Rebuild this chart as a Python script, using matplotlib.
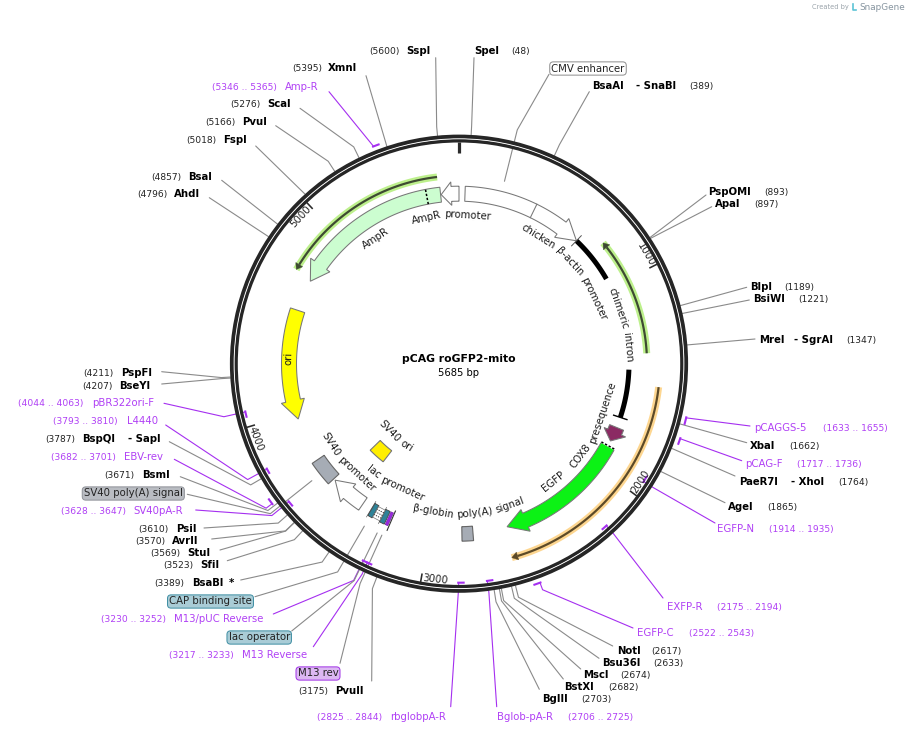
import numpy as np
import matplotlib
matplotlib.use("Agg")
import matplotlib.pyplot as plt
from matplotlib.patches import Polygon, Circle

TOTAL_BP = 5685
PLASMID = "pCAG roGFP2-mito"
LENGTH_LABEL = "5685 bp"
RULER_TICKS = [1000, 2000, 3000, 4000, 5000]

SITE_NAMES = ["SpeI", "BsaAI", "PspOMI", "ApaI", "BlpI", "BsiWI", "MreI", "XbaI", "PaeR7I", "AgeI",
              "NotI", "Bsu36I", "MscI", "BstXI", "BglII", "PvuII", "BsaBI", "SfiI", "StuI", "AvrII",
              "PsiI", "BsmI", "BspQI", "BseYI", "PspFI", "AhdI", "BsaI", "FspI", "PvuI", "ScaI", "XmnI", "SspI"]
SITE_BP = [48, 389, 893, 897, 1189, 1221, 1347, 1662, 1764, 1865,
           2617, 2633, 2674, 2682, 2703, 3175, 3389, 3523, 3569, 3570,
           3610, 3671, 3787, 4207, 4211, 4796, 4857, 5018, 5166, 5276, 5395, 5600]
SITE_PARTNER = {"BsaAI": "- SnaBI", "MreI": "- SgrAI", "PaeR7I": "- XhoI", "BspQI": "- SapI", "BsaBI": "*"}

PRIMER_NAMES = ["Amp-R", "pCAGGS-5", "pCAG-F", "EGFP-N", "EXFP-R", "EGFP-C", "Bglob-pA-R", "rbglobpA-R",
                "M13 Reverse", "M13/pUC Reverse", "SV40pA-R", "EBV-rev", "L4440", "pBR322ori-F"]
PRIMER_START = [5346, 1633, 1717, 1914, 2175, 2522, 2706, 2825, 3217, 3230, 3628, 3682, 3793, 4044]
PRIMER_END = [5365, 1655, 1736, 1935, 2194, 2543, 2725, 2844, 3233, 3252, 3647, 3701, 3810, 4063]

BOX_NAMES = ["CMV enhancer", "SV40 poly(A) signal", "CAP binding site", "lac operator", "M13 rev"]
BOX_BP = [221, 3656, 3320, 3250, 3225]

ARROW_NAMES = ["AmpR", "AmpR promoter", "chicken b-actin promoter", "ori", "EGFP", "COX8", "SV40 promoter"]
ARROW_START = [5587, 5685, 32, 4553, 1876, 1769, 3386]
ARROW_TIP = [4722, 5590, 690, 3964, 2583, 1848, 3581]
ARROW_HEAD = [4823, 5644, 586, 4065, 2479, 1796, 3484]

ORF_START = [1371, 5579, 1527]
ORF_TIP = [790, 4739, 2602]

EXON_START = [690, 1453]
EXON_END = [949, 1712]

GREY_FEATURE_START = [3591, 2768]
GREY_FEATURE_END = [3724, 2827]
SV40_ORI = (3438, 3565)
CAP_SITE = (3307, 3332)
LAC_OPERATOR = (3237, 3264)
LAC_PROMOTER = (3265, 3306)
M13_REV = (3217, 3232)
ACTIN_DIVIDER_BP = 411
AMPR_SIGNAL_BP = 5513
EGFP_LINK_BP = 1876

FEATURE_TEXTS = ["AmpR promoter", "AmpR", "chicken β-actin promoter", "chimeric intron", "ori",
                 "COX8 presequence", "EGFP", "β-globin poly(A) signal", "lac promoter", "SV40 promoter", "SV40 ori"]
FEATURE_TEXT_BP = [5639, 5153, 773, 1210, 4292, 1808, 2231, 2780, 3285, 3605, 3490]

# ---------- layout (pixels of the 909x734 canvas) ----------
CX, CY = 459.0, 363.7
SITE_X = [474, 591.7, 708, 715, 750, 753, 759, 750, 739, 728, 616.7, 601.7, 583.3, 564.3, 541.7, 335, 191.7,
          200, 187.3, 172.3, 175.7, 141.7, 82.3, 119.3, 120.7, 174, 188, 223, 242, 267, 328, 406]
SITE_Y = [51, 86, 192, 204, 287, 299, 340, 446, 482, 507, 651, 663, 675, 687, 699, 691, 583,
          565, 553, 541, 529, 475, 439, 385.7, 373.3, 194, 177, 140, 122, 104, 68, 51]
SITE_POS_X = [511.7, 689.3, 764, 754, 784, 798, 846, 789, 838, 767, 651.7, 653.3, 620, 608.3, 581.7, 298, 154,
              163.3, 150, 135, 138.3, 104.3, 45.7, 82.3, 83.3, 137, 151, 186, 205, 230, 292, 369]
SITE_END = [(474, 57.7), (589.3, 91.7), (706, 195), (711.7, 206.7), (746.7, 287.3), (749.3, 300), (755, 339),
            (746.7, 442.7), (735, 476), (725, 502.7), (612.7, 646), (599, 658.3), (580.7, 669), (563.3, 679),
            (539.3, 689.3), (371.7, 681), (240.7, 580), (227.3, 560.7), (220, 550), (211.7, 539), (204, 528),
            (180.3, 476.7), (169.3, 441.7), (161.7, 384), (161.7, 371.7), (209.3, 197.7), (221.7, 180.3),
            (255.7, 146), (275.7, 125.7), (300, 108.3), (366, 75.7), (435.7, 57.7)]
SITE_KNEE = [238, 241, None, None, None, None, None, None, None, None, 241, 241, 241, 241, 241, 241, 241,
             241, 241, 241, 241, 241, 241, 238, 238, None, None, None, 241, 241, None, 238]
PARTNER_X = {"BsaAI": 636, "MreI": 794, "PaeR7I": 791, "BspQI": 127.7, "BsaBI": 229}

PRIMER_X = [285, 754, 745, 717, 666.7, 637.3, 497.3, 390, 242, 174.3, 133.3, 124.3, 126.7, 91.7]
PRIMER_Y = [87, 428, 464, 529, 606.7, 633, 717, 717, 655, 619, 511, 457, 421, 403.3]
PRIMER_POS_X = [212, 823, 797, 769, 717.3, 689.3, 567.7, 317, 169.3, 101, 60.7, 51, 53.3, 18.3]
PRIMER_BAR_R = [233.5, 233.5, 233.5, 219, 219, 233.5, 219, 219, 219, 219, 219, 233.5, 219, 219]
PRIMER_ATTACH = [5346, 1633, 1717, 1935, 2175, 2522, 2725, 2844, 3233, 3252, 3647, 3682, 3810, 4063]
PRIMER_KNEE = [None, None, None, 230, 229, 241, 231, 224, 232, 241, 241, 241, 241, 241]
PRIMER_END_XY = [(329, 91.7), (750, 426), (741.7, 460.7), (715, 523), (663, 598), (633, 628), (496.7, 706.7),
                 (450.7, 706.7), (313.3, 646.7), (273.3, 614), (195.7, 510), (174.3, 459.3), (165.7, 425), (164, 403.3)]

BOX_CENTER = [(588, 68.5), (133.3, 493.5), (210.5, 601.5), (259.2, 637.5), (318, 673.5)]
BOX_FACE = ["white", "#b9bcc2", "#a9ccd6", "#a9ccd6", "#dcb8f2"]
BOX_EDGE = ["#8c8c8c", "#8f9298", "#3e8ea3", "#3e8ea3", "#a032e6"]
BOX_END = [(549, 74.3), (187.3, 494.3), (255, 596.7), (291.7, 631), (340, 663.3)]

ARROW_FACE = ["#ccfdd0", "white", "white", "#ffff00", "#0cf215", "#8b2a63", "white"]
FEATURE_TEXT_R = [149, 150, 150, 169, 170, 152, 150.5, 150, 138, 151, 97]

ORF_R = [188, 188, 201]
ORF_HALO = ["#bdf08c", "#bdf08c", "#fdd690"]
ORF_LINE = ["#3e4a32", "#3e4a32", "#5c4a28"]

PURPLE = "#a52ff0"
PURPLE_TXT = "#b040f5"
GREY = "#8a8a8a"
FS = 7.3
PX = 0.72

plt.rcParams["font.family"] = ["DejaVu Sans"]
fig = plt.figure(figsize=(9.09, 7.34), dpi=100)
ax = fig.add_axes([0, 0, 1, 1])
ax.set_xlim(0, 909)
ax.set_ylim(734, 0)
ax.axis("off")


def theta(bp):
    return np.radians(np.asarray(bp, dtype=float) / TOTAL_BP * 360.0)


def pol(bp, r):
    t = theta(bp)
    return CX + r * np.sin(t), CY - r * np.cos(t)


def arc(bp0, bp1, r, n=60):
    x, y = pol(np.linspace(bp0, bp1, n), r)
    return np.column_stack([x, y])


def band(bp0, bp1, r0, r1, **kw):
    pts = np.vstack([arc(bp0, bp1, r1), arc(bp1, bp0, r0)])
    ax.add_patch(Polygon(pts, closed=True, **kw))


def arrow(bp0, tip, head, face, zorder=4):
    ri, ro, hi, ho = 162.5, 177.5, 158.5, 182
    pts = np.vstack([arc(bp0, head, ro), [pol(head, ho)], [pol(tip, 170)], [pol(head, hi)], arc(head, bp0, ri)])
    ax.add_patch(Polygon(pts, closed=True, facecolor=face, edgecolor="#777777", lw=0.75, zorder=zorder))


def radial(bp, r0, r1, **kw):
    x0, y0 = pol(bp, r0)
    x1, y1 = pol(bp, r1)
    ax.plot([x0, x1], [y0, y1], **kw)


def leader(bp, r_from, end, knee, color, lw):
    pts = [pol(bp, r_from)]
    if knee is not None:
        pts.append(pol(bp, knee))
    pts.append(end)
    pts = np.array(pts)
    ax.plot(pts[:, 0], pts[:, 1], color=color, lw=lw, zorder=1, solid_capstyle="round")


# leaders first so that the backbone covers them
for name, bp, end, knee in zip(SITE_NAMES, SITE_BP, SITE_END, SITE_KNEE):
    leader(bp, 229, end, knee, GREY, 0.8)
for attach, r, end, knee in zip(PRIMER_ATTACH, PRIMER_BAR_R, PRIMER_END_XY, PRIMER_KNEE):
    leader(attach, r, end, knee, PURPLE, 0.8)
for bp, end in zip(BOX_BP, BOX_END):
    leader(bp, 188, end, 241, GREY, 0.8)

# primer bars
for s, e, r in zip(PRIMER_START, PRIMER_END, PRIMER_BAR_R):
    xy = arc(s - 6, e + 6, r, 12)
    ax.plot(xy[:, 0], xy[:, 1], color=PURPLE, lw=1.5, zorder=3, solid_capstyle="butt")

# backbone
ax.add_patch(Circle((CX, CY), 227.0, fill=False, ec="#262626", lw=4.2 * PX, zorder=2))
ax.add_patch(Circle((CX, CY), 223.0, fill=False, ec="#262626", lw=3.6 * PX, zorder=2))
ax.add_patch(Circle((CX, CY), 224.9, fill=False, ec="white", lw=0.9 * PX, zorder=2))

# ruler
radial(0, 222, 211, color="#2b2b2b", lw=3.2 * PX, zorder=3, solid_capstyle="butt")
for t in RULER_TICKS:
    radial(t, 222, 213, color="#2b2b2b", lw=1.6 * PX, zorder=3, solid_capstyle="butt")
    lb = t - 3.7 / 360 * TOTAL_BP
    x, y = pol(lb, 216.7)
    d = lb / TOTAL_BP * 360
    rot = 180 - d if 90 < d < 270 else -d
    ax.text(x, y, str(t), fontsize=FS, rotation=rot, rotation_mode="anchor", ha="center", va="center", color="#222222")

# ORF arrows
for s, tp, r, hc, lc in zip(ORF_START, ORF_TIP, ORF_R, ORF_HALO, ORF_LINE):
    head = tp + np.sign(s - tp) * 1.7 / 360 * TOTAL_BP
    xy = arc(s, tp, r)
    ax.plot(xy[:, 0], xy[:, 1], color=hc, lw=7.0 * PX, zorder=3, solid_capstyle="butt")
    xy = arc(s, head, r)
    ax.plot(xy[:, 0], xy[:, 1], color=lc, lw=2.2 * PX, zorder=3.5, solid_capstyle="butt")
    ax.add_patch(Polygon([pol(head, r - 4), pol(tp, r), pol(head, r + 4)], closed=True, fc=lc, ec=lc, lw=0.3, zorder=3.5))

# directional features
for s, tp, hd, fc in zip(ARROW_START, ARROW_TIP, ARROW_HEAD, ARROW_FACE):
    arrow(s, tp, hd, fc)

radial(ACTIN_DIVIDER_BP, 162.5, 177.5, color="#777777", lw=0.75, zorder=5)
radial(AMPR_SIGNAL_BP, 162.5, 177.5, color="black", lw=1.1, ls=(0, (1.5, 1.2)), zorder=5)
radial(EGFP_LINK_BP, 162.5, 177.5, color="white", lw=1.4, zorder=5)
radial(EGFP_LINK_BP, 162.5, 177.5, color="black", lw=1.1, ls=(0, (1.5, 1.2)), zorder=5)

# chimeric intron exons
for s, e in zip(EXON_START, EXON_END):
    xy = arc(s, e, 170)
    ax.plot(xy[:, 0], xy[:, 1], color="black", lw=5 * PX, zorder=5, solid_capstyle="butt")
radial(EXON_START[0], 163, 177, color="#555555", lw=0.7, zorder=5)
radial(EXON_END[1], 163, 177, color="black", lw=1.0, zorder=5)

# block features
for s, e in zip(GREY_FEATURE_START, GREY_FEATURE_END):
    band(s, e, 163, 177.5, facecolor="#a6acb5", edgecolor="#666666", lw=0.8, zorder=4)
band(SV40_ORI[0], SV40_ORI[1], 110, 124, facecolor="#ffee00", edgecolor="#777777", lw=0.8, zorder=4)
band(*CAP_SITE, 163, 177, facecolor="#2f8398", edgecolor="#444444", lw=0.6, zorder=4)
band(*LAC_OPERATOR, 163, 177, facecolor="#2f8398", edgecolor="#444444", lw=0.6, zorder=4)
band(*LAC_PROMOTER, 164, 176, facecolor="white", edgecolor="#777777", lw=0.5, zorder=4)
for r in (167, 170, 173):
    xy = arc(LAC_PROMOTER[0], LAC_PROMOTER[1], r, 12)
    ax.plot(xy[:, 0], xy[:, 1], color="#333333", lw=0.7, ls=(0, (1.2, 1.2)), zorder=5)
band(*M13_REV, 163, 177, facecolor="#9a28e0", edgecolor="#6a1aa0", lw=0.4, zorder=4)
radial(M13_REV[0] - 6, 160.5, 181.5, color="#333333", lw=0.8, zorder=5)
radial(CAP_SITE[1] + 2, 161, 179, color="#666666", lw=0.5, zorder=3)
radial(LAC_OPERATOR[1] + 1, 161, 179, color="#666666", lw=0.5, zorder=3)

# centre
ax.text(CX, 359.5, PLASMID, fontsize=7.8, fontweight="bold", ha="center", va="center", color="black")
ax.text(CX, 372.5, LENGTH_LABEL, fontsize=7.2, ha="center", va="center", color="black")

# labels on the map, set word by word along the circle
renderer = fig.canvas.get_renderer()


def arc_words(text, bp, r, **kw):
    centre = bp / TOTAL_BP * 360
    flip = 90 < centre < 270
    words = text.split(" ")
    probe = ax.text(0, 0, "a a", fontsize=FS)
    w_aa = probe.get_window_extent(renderer).width
    probe.set_text("aa")
    space = w_aa - probe.get_window_extent(renderer).width
    widths = []
    for w in words:
        probe.set_text(w)
        widths.append(probe.get_window_extent(renderer).width)
    probe.remove()
    total = sum(widths) + space * (len(words) - 1)
    s = -total / 2
    for w, wd in zip(words, widths):
        mid = s + wd / 2
        off = np.degrees(mid / r)
        d = centre - off if flip else centre + off
        b = d / 360 * TOTAL_BP
        x, y = pol(b, r)
        rot = 180 - d if flip else -d
        ax.text(x, y, w, fontsize=FS, rotation=rot, rotation_mode="anchor", ha="center", va="center",
                color="#1a1a1a", zorder=6)
        s += wd + space


for tx, bp, r in zip(FEATURE_TEXTS, FEATURE_TEXT_BP, FEATURE_TEXT_R):
    arc_words(tx, bp, r)

# restriction site labels
for name, bp, x, y, px in zip(SITE_NAMES, SITE_BP, SITE_X, SITE_Y, SITE_POS_X):
    ax.text(x, y, name, fontsize=FS, fontweight="bold", ha="left", va="center", color="black")
    ax.text(px, y + 0.5, f"({bp})", fontsize=6.6, ha="left", va="center", color="#222222")
    if name in SITE_PARTNER:
        ax.text(PARTNER_X[name], y, SITE_PARTNER[name], fontsize=FS, fontweight="bold", ha="left", va="center", color="black")

# primer labels
for name, s, e, x, y, px in zip(PRIMER_NAMES, PRIMER_START, PRIMER_END, PRIMER_X, PRIMER_Y, PRIMER_POS_X):
    ax.text(x, y, name, fontsize=FS, ha="left", va="center", color=PURPLE_TXT)
    ax.text(px, y + 0.5, f"({s} .. {e})", fontsize=6.6, ha="left", va="center", color=PURPLE_TXT)

# boxed feature labels
for name, c, fc, ec in zip(BOX_NAMES, BOX_CENTER, BOX_FACE, BOX_EDGE):
    ax.text(c[0], c[1], name, fontsize=FS, ha="center", va="center", color="#222222", zorder=6,
            bbox=dict(boxstyle="round,pad=0.16,rounding_size=0.35", fc=fc, ec=ec, lw=0.7))

# watermark
ax.text(812, 7, "Created by", fontsize=4.8, ha="left", va="center", color="#9aa3aa")
ax.text(859, 7, "SnapGene", fontsize=6.4, ha="left", va="center", color="#8795a0")
ax.plot([853, 853, 856], [4, 10, 10], color="#5cc3d6", lw=1.2)

fig.savefig("out.png", dpi=100, facecolor="white")
